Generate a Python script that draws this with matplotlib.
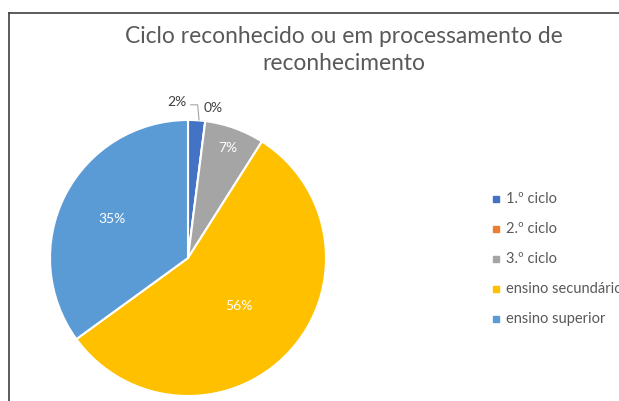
import numpy as np
import matplotlib.pyplot as plt
from matplotlib.lines import Line2D
from matplotlib.patches import Rectangle

labels = ['1.º ciclo', '2.º ciclo', '3.º ciclo', 'ensino secundário', 'ensino superior']
values = [2, 0, 7, 56, 35]
colors = ['#4472C4', '#ED7D31', '#A5A5A5', '#FFC000', '#5B9BD5']
title = 'Ciclo reconhecido ou em processamento de\nreconhecimento'

W, H = 619, 401
fig = plt.figure(figsize=(W / 100, H / 100), dpi=100)
plt.rcParams['font.family'] = ['Lato', 'DejaVu Sans']

# chart border (left and top visible)
fig.add_artist(Line2D([9 / W, 9 / W], [0, 1 - 13 / H], color='#404040', lw=1.2))
fig.add_artist(Line2D([9 / W, 1], [1 - 13 / H, 1 - 13 / H], color='#404040', lw=1.2))

fig.text(344 / W, 1 - 50 / H, title, ha='center', va='center', fontsize=16.4,
         color='#595959', linespacing=1.35)

cx, cy, r = 188, 258, 138
ax = fig.add_axes([(cx - r) / W, (H - cy - r) / H, 2 * r / W, 2 * r / H])
wedges, _ = ax.pie(values, colors=colors, startangle=90, counterclock=False,
                   wedgeprops=dict(edgecolor='white', linewidth=1.5))
ax.set_xlim(-1, 1)
ax.set_ylim(-1, 1)
ax.axis('off')

dist = [None, None, 0.85, 0.51, 0.62]
for i, w in enumerate(wedges):
    ang = np.deg2rad((w.theta1 + w.theta2) / 2)
    txt = f'{values[i]}%'
    if i == 0:
        ax.text(-0.08, 1.13, txt, ha='center', va='center', fontsize=10, color='#404040')
    elif i == 1:
        ax.text(0.18, 1.09, txt, ha='center', va='center', fontsize=10, color='#404040')
        ax.plot([0.02, 0.07, 0.08], [1.11, 1.11, 1.0], color='#A5A5A5', lw=0.8,
                clip_on=False)
    else:
        d = dist[i]
        ax.text(d * np.cos(ang), d * np.sin(ang), txt, ha='center', va='center',
                fontsize=10, color='white')

# legend
for i, lab in enumerate(labels):
    y = 1 - (199 + 30 * i) / H
    fig.add_artist(Rectangle((493 / W, y - 3 / H), 6 / W, 6 / H, color=colors[i]))
    fig.text(506 / W, y, lab, ha='left', va='center', fontsize=10.5, color='#595959')

fig.savefig('out.png', dpi=100)
